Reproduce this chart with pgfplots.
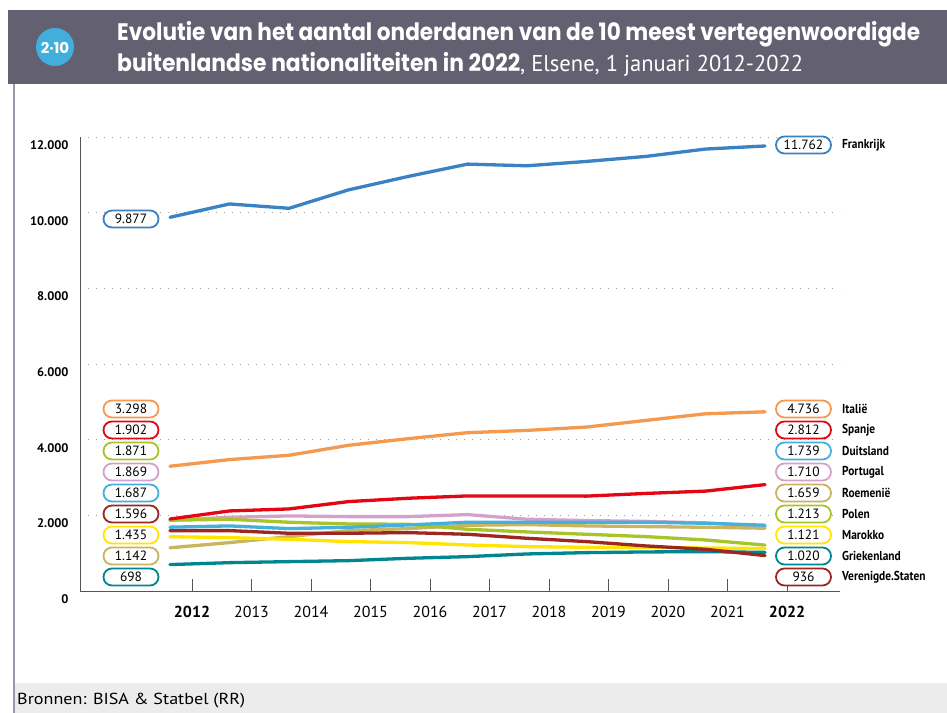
\documentclass[border=0pt]{standalone}
\usepackage{fontspec}
\setmainfont{PT Sans}
\newfontfamily\titlefont{Poppins}
\usepackage{pgfplots}
\usepackage{pgfplotstable}
\pgfplotsset{compat=1.18}
\usetikzlibrary{shapes.misc}

\definecolor{hdr}{HTML}{636072}
\definecolor{badge}{HTML}{42AEDB}
\definecolor{frame}{HTML}{9A98A8}
\definecolor{foot}{HTML}{ECECEC}
\definecolor{axisgray}{HTML}{555555}
\definecolor{cfr}{HTML}{3A82C4}
\definecolor{cit}{HTML}{F5994E}
\definecolor{ces}{HTML}{E30613}
\definecolor{cde}{HTML}{45B0DC}
\definecolor{cpt}{HTML}{D6A0CC}
\definecolor{cro}{HTML}{C8B560}
\definecolor{cpl}{HTML}{A8C428}
\definecolor{cma}{HTML}{FFE500}
\definecolor{cgr}{HTML}{00868F}
\definecolor{cus}{HTML}{9B2720}

\pgfplotstableread{
i  fr    it   es   de   pt   ro   pl   ma   gr   us
0  9877  3298 1902 1687 1869 1142 1871 1435 698  1596
1  10230 3473 2116 1720 1949 1279 1896 1411 749  1596
2  10115 3587 2169 1649 1984 1437 1817 1367 776  1526
3  10602 3851 2363 1684 1966 1596 1772 1305 802  1526
4  10956 4026 2451 1746 1966 1649 1764 1279 864  1543
5  11283 4184 2513 1817 2019 1737 1632 1217 908  1499
6  11239 4245 2513 1817 1896 1755 1561 1173 979  1393
7  11354 4333 2508 1817 1861 1720 1499 1155 1014 1305
8  11487 4509 2579 1817 1840 1702 1437 1146 1032 1191
9  11681 4684 2640 1790 1800 1684 1349 1138 1041 1102
10 11762 4736 2812 1739 1710 1659 1213 1121 1020 936
}\datatable

\tikzset{vbox/.style={rounded rectangle, draw=#1, line width=1.8bp, fill=white,
  minimum width=55bp, minimum height=17bp, inner sep=0pt, font=\fontsize{13.5}{15}\selectfont}}

\begin{document}
\begin{tikzpicture}[x=1bp,y=1bp]
\useasboundingbox (0,0) rectangle (947,713);
\fill[white] (0,0) rectangle (947,713);
% header
\fill[hdr] (8,629) rectangle (947,703);
\fill[badge] (55,666) circle (19);
\node[white, inner sep=0, font=\titlefont\bfseries\fontsize{15}{15}\selectfont] at (55,665) {2·10};
\node[anchor=base west, white, inner sep=0] at (117,672)
  {\resizebox{803bp}{\height}{\titlefont\bfseries\fontsize{24}{28}\selectfont Evolutie van het aantal onderdanen van de 10 meest vertegenwoordigde}};
\node[anchor=base west, white, inner sep=0] at (117,641)
  {\resizebox{403bp}{\height}{\titlefont\bfseries\fontsize{24}{28}\selectfont buitenlandse nationaliteiten in 2022}\resizebox{283bp}{\height}{\fontsize{23}{28}\selectfont , Elsene, 1 januari 2012-2022}};
% frame and footer
\fill[foot] (14,0) rectangle (947,30);
\draw[frame, line width=2bp] (14,629) -- (14,0);
\node[anchor=base west, inner sep=0] at (17,8)
  {\resizebox{228bp}{\height}{\fontsize{16}{18}\selectfont Bronnen: BISA \& Statbel (RR)}};

\begin{axis}[
  at={(80bp,122bp)}, anchor=south west,
  scale only axis, width=760bp, height=454bp,
  xmin=-1.5126, xmax=11.26, ymin=0, ymax=12000,
  scaled y ticks=false,
  axis lines*=left,
  axis line style={draw=axisgray, line width=0.9bp},
  ymajorgrids,
  major grid style={draw=gray!75, line width=0.9bp, dash pattern=on 1bp off 7bp},
  ytick={0,2000,4000,6000,8000,10000,12000},
  yticklabels={0,2.000,4.000,6.000,8.000,10.000,12.000},
  yticklabel style={font=\bfseries\fontsize{12.5}{14}\selectfont, xshift=-8bp, yshift=-8bp},
  ytick style={draw=none},
  xtick={0.37,1.37,2.37,3.37,4.37,5.37,6.37,7.37,8.37,9.37,10.37},
  xticklabels={\textbf{2012},2013,2014,2015,2016,2017,2018,2019,2020,2021,\textbf{2022}},
  xticklabel style={font=\fontsize{16}{18}\selectfont, yshift=-12bp},
  tick align=inside, major tick length=12bp,
  xtick style={draw=axisgray, line width=0.9bp},
  clip=false,
  every axis plot/.append style={line width=3.3bp, line join=round, line cap=round, mark=none},
]
\addplot[cpt] table[x=i, y=pt] {\datatable};
\addplot[cro] table[x=i, y=ro] {\datatable};
\addplot[cpl] table[x=i, y=pl] {\datatable};
\addplot[cma] table[x=i, y=ma] {\datatable};
\addplot[cgr] table[x=i, y=gr] {\datatable};
\addplot[cus] table[x=i, y=us] {\datatable};
\addplot[cde] table[x=i, y=de] {\datatable};
\addplot[ces] table[x=i, y=es] {\datatable};
\addplot[cit] table[x=i, y=it] {\datatable};
\addplot[cfr] table[x=i, y=fr] {\datatable};
\end{axis}

% left value boxes
\node[vbox=cfr] at (131,494) {9.877};
\node[vbox=cit] at (131,304) {3.298};
\node[vbox=ces] at (131,283) {1.902};
\node[vbox=cpl] at (131,262) {1.871};
\node[vbox=cpt] at (131,241) {1.869};
\node[vbox=cde] at (131,220) {1.687};
\node[vbox=cus] at (131,199) {1.596};
\node[vbox=cma] at (131,178) {1.435};
\node[vbox=cro] at (131,157) {1.142};
\node[vbox=cgr] at (131,136) {698};
% right value boxes
\node[vbox=cfr] at (803.5,568) {11.762};
\node[vbox=cit] at (803.5,304) {4.736};
\node[vbox=ces] at (803.5,283) {2.812};
\node[vbox=cde] at (803.5,262) {1.739};
\node[vbox=cpt] at (803.5,241) {1.710};
\node[vbox=cro] at (803.5,220) {1.659};
\node[vbox=cpl] at (803.5,199) {1.213};
\node[vbox=cma] at (803.5,178) {1.121};
\node[vbox=cgr] at (803.5,157) {1.020};
\node[vbox=cus] at (803.5,136) {936};
% country names
\begin{scope}[every node/.style={anchor=west, inner sep=0, font=\bfseries\fontsize{13}{15}\selectfont}]
\node at (842,568) {\scalebox{0.88}[1]{Frankrijk}};
\node at (842,304) {\scalebox{0.88}[1]{Italië}};
\node at (842,283) {\scalebox{0.88}[1]{Spanje}};
\node at (842,262) {\scalebox{0.88}[1]{Duitsland}};
\node at (842,241) {\scalebox{0.88}[1]{Portugal}};
\node at (842,220) {\scalebox{0.88}[1]{Roemenië}};
\node at (842,199) {\scalebox{0.88}[1]{Polen}};
\node at (842,178) {\scalebox{0.88}[1]{Marokko}};
\node at (842,157) {\scalebox{0.88}[1]{Griekenland}};
\node at (842,136) {\scalebox{0.88}[1]{Verenigde.Staten}};
\end{scope}
\end{tikzpicture}
\end{document}
